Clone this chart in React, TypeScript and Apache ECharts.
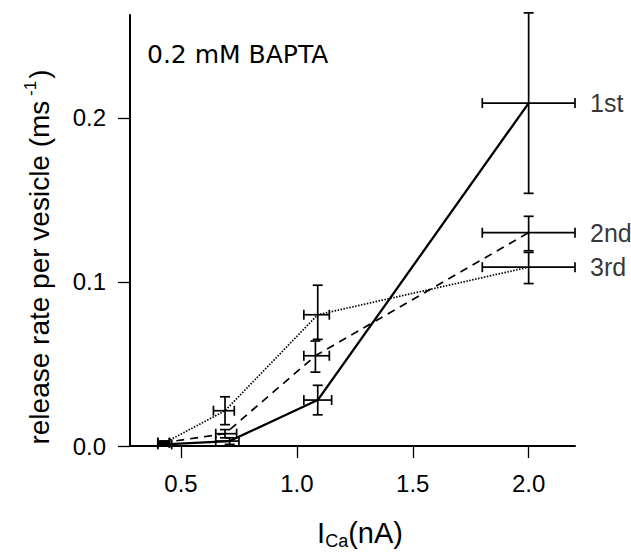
import React, { useEffect, useRef } from "react";
import * as echarts from "echarts";

const seriesNames = ["1st", "2nd", "3rd"];
const x1 = [0.43, 0.71, 1.09, 2.0];
const y1 = [0.001, 0.003, 0.028, 0.209];
const x2 = [0.42, 0.69, 1.08, 2.0];
const y2 = [0.002, 0.0075, 0.055, 0.13];
const x3 = [0.43, 0.69, 1.09, 2.0];
const y3 = [0.002, 0.0215, 0.08, 0.109];
const yErr1 = [[0.0005, 0.002], [0.001, 0.005], [0.019, 0.037], [0.154, 0.264]];
const yErr2 = [[0.001, 0.003], [0.005, 0.01], [0.045, 0.064], [0.119, 0.14]];
const yErr3 = [[0.001, 0.003], [0.013, 0.03], [0.065, 0.098], [0.099, 0.118]];
const xErr1 = [[0.4, 0.46], [0.65, 0.75], [1.03, 1.15], [1.8, 2.2]];
const xErr2 = [[0.4, 0.45], [0.65, 0.74], [1.03, 1.14], [1.8, 2.2]];
const xErr3 = [[0.4, 0.45], [0.64, 0.73], [1.03, 1.14], [1.8, 2.2]];
const xTicks = [0.5, 1.0, 1.5, 2.0];
const yTicks = [0, 0.1, 0.2];

const FONT = "Liberation Sans";

function errData(xs: number[], ys: number[], ye: number[][], xe: number[][]) {
  return xs.map((x, i) => [x, ys[i], ye[i][0], ye[i][1], xe[i][0], xe[i][1]]);
}

function errSeries(data: number[][]) {
  return {
    type: "custom",
    silent: true,
    z: 5,
    data,
    encode: { x: [0, 4, 5], y: [1, 2, 3] },
    renderItem: (params: any, api: any) => {
      const x = api.value(0);
      const y = api.value(1);
      const c = api.coord([x, y]);
      const lo = api.coord([x, api.value(2)]);
      const hi = api.coord([x, api.value(3)]);
      const l = api.coord([api.value(4), y]);
      const r = api.coord([api.value(5), y]);
      const cap = 5;
      const style = { stroke: "#000", lineWidth: 1.7 };
      return {
        type: "group",
        children: [
          { type: "line", shape: { x1: c[0], y1: lo[1], x2: c[0], y2: hi[1] }, style },
          { type: "line", shape: { x1: c[0] - cap, y1: lo[1], x2: c[0] + cap, y2: lo[1] }, style },
          { type: "line", shape: { x1: c[0] - cap, y1: hi[1], x2: c[0] + cap, y2: hi[1] }, style },
          { type: "line", shape: { x1: l[0], y1: c[1], x2: r[0], y2: c[1] }, style },
          { type: "line", shape: { x1: l[0], y1: c[1] - cap, x2: l[0], y2: c[1] + cap }, style },
          { type: "line", shape: { x1: r[0], y1: c[1] - cap, x2: r[0], y2: c[1] + cap }, style },
        ],
      };
    },
  };
}

export default function App() {
  const ref = useRef<HTMLDivElement>(null);
  useEffect(() => {
    document.body.style.margin = "0";
    const chart = echarts.init(ref.current!, null, { renderer: "svg" });
    const zip = (xs: number[], ys: number[]) => xs.map((x, i) => [x, ys[i]]);
    const xMax = 2.2;
    const endLabels = [
      [xMax, y1[y1.length - 1], 0],
      [xMax, y2[y2.length - 1], 1],
      [xMax, y3[y3.length - 1], 2],
    ];
    chart.setOption({
      animation: false,
      backgroundColor: "#fff",
      grid: { left: 130, right: 56, top: 15, bottom: 108 },
      xAxis: {
        type: "value",
        min: 0.28,
        max: xMax,
        splitLine: { show: false },
        axisLine: { lineStyle: { color: "#000", width: 2 } },
        axisTick: { customValues: xTicks, length: 12, lineStyle: { color: "#000", width: 1.3 } },
        axisLabel: {
          customValues: xTicks,
          formatter: (v: number) => v.toFixed(1),
          color: "#000",
          fontSize: 24,
          fontFamily: FONT,
          margin: 25,
        },
      },
      yAxis: {
        type: "value",
        min: 0,
        max: 0.2627,
        splitLine: { show: false },
        axisLine: { lineStyle: { color: "#000", width: 2 } },
        axisTick: { customValues: yTicks, length: 12, lineStyle: { color: "#000", width: 1.3 } },
        axisLabel: {
          customValues: yTicks,
          formatter: (v: number) => v.toFixed(1),
          color: "#000",
          fontSize: 24,
          fontFamily: FONT,
          margin: 24,
        },
      },
      series: [
        {
          name: seriesNames[0],
          type: "line",
          data: zip(x1, y1),
          showSymbol: false,
          lineStyle: { color: "#000", width: 2.3, type: "solid" },
        },
        {
          name: seriesNames[1],
          type: "line",
          data: zip(x2, y2),
          showSymbol: false,
          lineStyle: { color: "#000", width: 1.7, type: [8, 6] },
        },
        {
          name: seriesNames[2],
          type: "line",
          data: zip(x3, y3),
          showSymbol: false,
          lineStyle: { color: "#000", width: 1.7, type: [1.5, 1.5] },
        },
        errSeries(errData(x1, y1, yErr1, xErr1)),
        errSeries(errData(x2, y2, yErr2, xErr2)),
        errSeries(errData(x3, y3, yErr3, xErr3)),
        {
          type: "scatter",
          silent: true,
          symbolSize: 0,
          data: endLabels,
          label: {
            show: true,
            position: "right",
            distance: 15,
            formatter: (p: any) => seriesNames[p.value[2]],
            fontSize: 25,
            fontFamily: FONT,
            color: "#000",
          },
        },
      ],
      graphic: [
        {
          type: "text",
          left: 147,
          top: 42,
          style: { text: "0.2 mM BAPTA", fontSize: 25, fontFamily: "DejaVu Sans", fill: "#000" },
        },
        {
          type: "text",
          x: 39,
          y: 257,
          rotation: Math.PI / 2,
          style: {
            text: "release rate per vesicle (ms{sup| -1})",
            fontSize: 28,
            fontFamily: FONT,
            fill: "#000",
            align: "center",
            verticalAlign: "middle",
            rich: {
              sup: { fontSize: 17, fontFamily: FONT, fill: "#000", padding: [0, 2, 18, 0] },
            },
          },
        },
        {
          type: "text",
          x: 360,
          y: 533,
          style: {
            text: "I{sub|Ca}(nA)",
            fontSize: 29,
            fontFamily: FONT,
            fill: "#000",
            align: "center",
            verticalAlign: "middle",
            rich: {
              sub: { fontSize: 18, fontFamily: FONT, fill: "#000", padding: [16, 0, 0, 0] },
            },
          },
        },
      ],
    });
    return () => chart.dispose();
  }, []);
  return <div ref={ref} style={{ width: 631, height: 554 }} />;
}
